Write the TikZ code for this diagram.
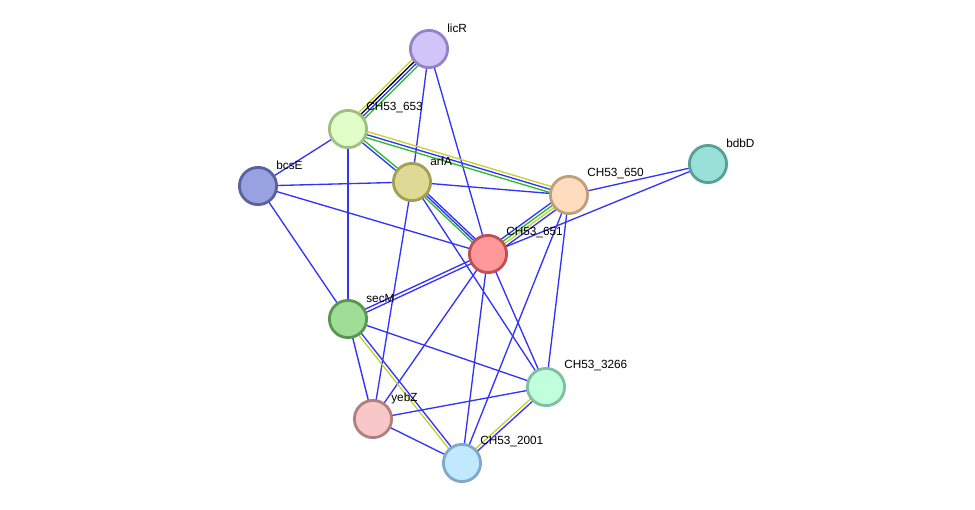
\documentclass[tikz,border=0pt]{standalone}
\usepackage{fontspec}
\setmainfont{Liberation Sans}
\usetikzlibrary{calc,backgrounds}
\definecolor{eblue}{RGB}{51,51,250}
\definecolor{egreen}{RGB}{40,190,40}
\definecolor{eyellow}{RGB}{196,212,44}
% fill / border of each protein
\definecolor{licRf}{RGB}{208,196,248}\definecolor{licRd}{RGB}{150,130,200}
\definecolor{p653f}{RGB}{224,255,200}\definecolor{p653d}{RGB}{160,190,130}
\definecolor{bcsEf}{RGB}{152,162,224}\definecolor{bcsEd}{RGB}{88,98,160}
\definecolor{arfAf}{RGB}{222,218,150}\definecolor{arfAd}{RGB}{160,160,80}
\definecolor{p650f}{RGB}{255,220,190}\definecolor{p650d}{RGB}{190,160,120}
\definecolor{bdbDf}{RGB}{152,224,216}\definecolor{bdbDd}{RGB}{88,160,150}
\definecolor{p651f}{RGB}{255,152,152}\definecolor{p651d}{RGB}{192,80,80}
\definecolor{secMf}{RGB}{158,222,150}\definecolor{secMd}{RGB}{90,150,80}
\definecolor{p3266f}{RGB}{192,255,220}\definecolor{p3266d}{RGB}{128,192,160}
\definecolor{yebZf}{RGB}{248,200,200}\definecolor{yebZd}{RGB}{176,128,128}
\definecolor{p2001f}{RGB}{192,232,255}\definecolor{p2001d}{RGB}{128,168,200}
\tikzset{
  prot/.style={circle,draw=#1d,fill=#1f,line width=2pt,minimum size=0.93cm,inner sep=0pt},
  lbl/.style={anchor=west,inner sep=0pt,font=\fontsize{8.4}{10}\selectfont},
  edge/.style={line width=0.95pt}
}
% offset/colour pairs, one line per pair
\newcommand\evlink[3]{%
  \foreach \o/\c in {#3}
    \draw[edge,\c] ($(#1)!\o pt!90:(#2)$) -- ($(#2)!\o pt!-90:(#1)$);}
\begin{document}
\begin{tikzpicture}[x=0.025cm,y=-0.025cm]
\useasboundingbox (0,0) rectangle (975,509);
\node[prot=licR] (licR) at (429,49) {};
\node[prot=p653] (p653) at (348,129) {};
\node[prot=bcsE] (bcsE) at (258,186) {};
\node[prot=arfA] (arfA) at (412,182) {};
\node[prot=p650] (p650) at (569,195) {};
\node[prot=bdbD] (bdbD) at (708,164) {};
\node[prot=p651] (p651) at (488,254) {};
\node[prot=secM] (secM) at (348,319) {};
\node[prot=p3266] (p3266) at (546,387) {};
\node[prot=yebZ] (yebZ) at (373,419) {};
\node[prot=p2001] (p2001) at (462,463) {};

\node[lbl] (licR-l) at ([shift={(18,-21)}]licR) {licR};
\node[lbl] (p653-l) at ([shift={(18,-21)}]p653) {CH53\_653};
\node[lbl] (bcsE-l) at ([shift={(18,-21)}]bcsE) {bcsE};
\node[lbl] (arfA-l) at ([shift={(18,-21)}]arfA) {arfA};
\node[lbl] (p650-l) at ([shift={(18,-21)}]p650) {CH53\_650};
\node[lbl] (bdbD-l) at ([shift={(18,-21)}]bdbD) {bdbD};
\node[lbl] (p651-l) at ([shift={(18,-21)}]p651) {CH53\_651};
\node[lbl] (secM-l) at ([shift={(18,-21)}]secM) {secM};
\node[lbl] (p3266-l) at ([shift={(18,-21)}]p3266) {CH53\_3266};
\node[lbl] (yebZ-l) at ([shift={(18,-21)}]yebZ) {yebZ};
\node[lbl] (p2001-l) at ([shift={(18,-21)}]p2001) {CH53\_2001};

\begin{scope}[on background layer]
\evlink{licR}{p653}{-3/eyellow,-1/black,1/eblue,3/egreen}
\evlink{licR}{arfA}{0/eblue}
\evlink{licR}{p651}{0/eblue}
\evlink{p653}{bcsE}{0/eblue}
\evlink{p653}{arfA}{-1/eblue,1/egreen}
\evlink{p653}{p650}{2.2/eyellow,0/eblue,-2.2/egreen}
\evlink{p653}{secM}{0/eblue}
\evlink{arfA}{p651}{1.6/eblue,0/eblue,-1.6/egreen}
\evlink{bcsE}{arfA}{0/eblue}
\evlink{bcsE}{p651}{0/eblue}
\evlink{bcsE}{secM}{0/eblue}
\evlink{arfA}{p650}{0/eblue}
\evlink{arfA}{yebZ}{0/eblue}
\evlink{arfA}{p3266}{0/eblue}
\evlink{p650}{p651}{3/eblue,1/eyellow,-1/egreen,-3/eblue}
\evlink{p650}{bdbD}{0/eblue}
\evlink{p651}{bdbD}{0/eblue}
\evlink{p650}{p3266}{0/eblue}
\evlink{p650}{p2001}{0/eblue}
\evlink{secM}{p651}{-1.2/eblue,1.2/eblue}
\evlink{p651}{yebZ}{0/eblue}
\evlink{p651}{p2001}{0/eblue}
\evlink{p651}{p3266}{0/eblue}
\evlink{secM}{yebZ}{0/eblue}
\evlink{secM}{p2001}{-1.1/eyellow,1.1/eblue}
\evlink{secM}{p3266}{0/eblue}
\evlink{yebZ}{p3266}{0/eblue}
\evlink{yebZ}{p2001}{0/eblue}
\evlink{p3266}{p2001}{1.1/eblue,-1.1/eyellow}
\end{scope}
\end{tikzpicture}
\end{document}
